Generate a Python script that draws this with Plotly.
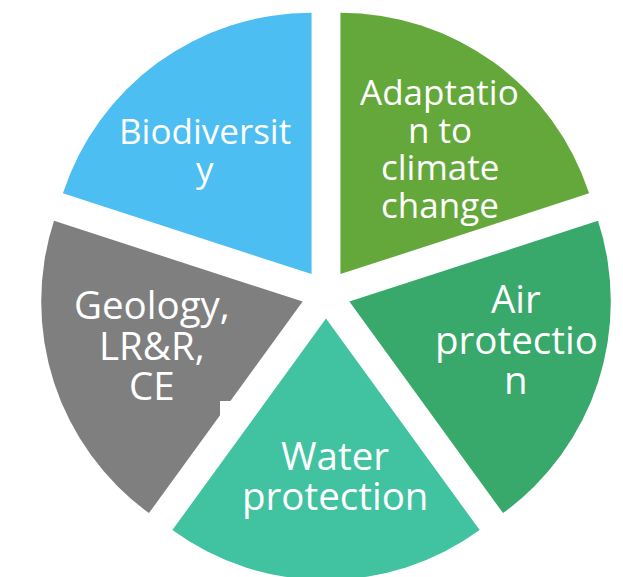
import plotly.graph_objects as go

# Data (clockwise from 12 o'clock)
labels = ["Adaptation to climate change", "Air protection", "Water protection",
          "Geology, LR&R, CE", "Biodiversity"]
values = [1, 1, 1, 1, 1]
label_lines = [["Adaptatio", "n to", "climate", "change"],
               ["Air", "protectio", "n"],
               ["Water", "protection"],
               ["Geology,", "LR&R,", "CE"],
               ["Biodiversit", "y"]]

# Styles
colors = ["#64A83B", "#38A86B", "#41C2A0", "#7F7F7F", "#4CBEF2"]
W, H = 623, 577
OFF = 8  # page offset of the figure in the browser
# label layout: font size, centre x and first-line baseline (page pixels), line step
label_font = [35, 38.5, 38.5, 38.5, 35]
label_x = [440, 516, 335, 152, 205]
label_base = [104, 312, 469, 318, 143]
label_step = [37.7, 40.5, 40, 40.5, 38]

fig = go.Figure(go.Pie(
    labels=labels,
    values=values,
    sort=False,
    direction="clockwise",
    rotation=0,
    pull=[0.094] * 5,
    marker=dict(colors=colors, line=dict(width=0)),
    textinfo="none",
    hoverinfo="label",
    showlegend=False,
    domain=dict(x=[31 / W, 605 / W], y=[1 - 572 / H, 1]),
))

for lines, fs, cx, b0, step in zip(label_lines, label_font, label_x, label_base, label_step):
    for i, line in enumerate(lines):
        base = b0 + i * step - OFF
        fig.add_annotation(
            x=(cx - OFF) / W, y=1 - (base - 0.36 * fs) / H,
            xref="paper", yref="paper",
            text=line, showarrow=False, xanchor="center", yanchor="middle",
            font=dict(family="Open Sans", size=fs, color="white"),
        )

# small white notch on the grey slice
fig.add_shape(type="rect", xref="paper", yref="paper",
              x0=(220 - OFF) / W, x1=(234 - OFF) / W,
              y0=1 - (417 - OFF) / H, y1=1 - (401 - OFF) / H,
              fillcolor="white", line=dict(width=0))

fig.update_layout(
    width=W, height=H,
    margin=dict(l=0, r=0, t=0, b=0),
    paper_bgcolor="white", plot_bgcolor="white",
)

fig.write_html("out.html")
